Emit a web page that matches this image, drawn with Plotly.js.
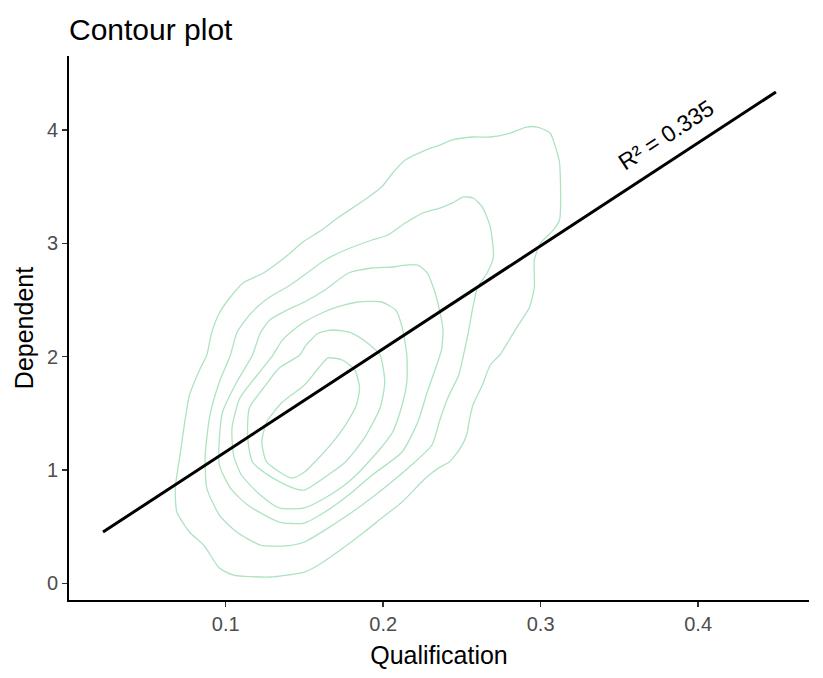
<!DOCTYPE html>
<html>
<head>
<meta charset="utf-8">
<script src="https://cdn.plot.ly/plotly-3.0.1.min.js"></script>
<style>html,body{margin:0;padding:0;background:#fff;}#chart{width:823px;height:678px;}</style>
</head>
<body>
<div id="chart"></div>
<script>
// Density contour rings (outer to inner)
const ring1X = [0.236,0.244,0.257,0.268,0.279,0.291,0.298,0.306,0.310,0.312,0.312,0.308,0.300,0.296,0.296,0.293,0.285,0.274,0.268,0.263,0.257,0.255,0.253,0.249,0.242,0.236,0.227,0.212,0.199,0.188,0.171,0.159,0.150,0.139,0.128,0.105,0.096,0.086,0.077,0.069,0.068,0.071,0.074,0.077,0.084,0.088,0.091,0.096,0.103,0.111,0.124,0.133,0.141,0.149,0.161,0.171,0.188,0.199,0.206,0.214,0.227,0.236];
const ring1Y = [3.868,3.913,3.939,3.939,3.966,4.027,4.027,3.974,3.824,3.710,3.207,3.118,3.004,2.854,2.615,2.439,2.262,2.015,1.927,1.750,1.574,1.459,1.309,1.194,1.071,1.026,0.929,0.718,0.576,0.453,0.276,0.162,0.100,0.073,0.056,0.073,0.135,0.338,0.453,0.629,0.841,1.132,1.424,1.662,1.900,2.015,2.209,2.386,2.527,2.651,2.739,2.827,2.915,3.012,3.118,3.224,3.383,3.498,3.621,3.736,3.824,3.868];

const ring2X = [0.236,0.244,0.251,0.257,0.263,0.268,0.270,0.266,0.260,0.257,0.254,0.251,0.248,0.241,0.236,0.231,0.218,0.203,0.184,0.168,0.150,0.138,0.122,0.107,0.096,0.088,0.087,0.090,0.096,0.103,0.107,0.114,0.120,0.128,0.139,0.150,0.163,0.176,0.193,0.203,0.214,0.225,0.236];
const ring2Y = [3.312,3.357,3.410,3.401,3.321,3.145,2.880,2.739,2.615,2.439,2.209,2.015,1.838,1.635,1.441,1.221,1.044,0.868,0.665,0.515,0.365,0.330,0.338,0.453,0.603,0.841,1.132,1.485,1.777,2.015,2.209,2.350,2.439,2.527,2.615,2.721,2.854,2.942,3.030,3.074,3.180,3.268,3.312];

const ring3X = [0.150,0.163,0.178,0.193,0.206,0.214,0.222,0.228,0.233,0.236,0.238,0.237,0.234,0.228,0.222,0.212,0.193,0.178,0.163,0.150,0.134,0.114,0.103,0.096,0.096,0.098,0.107,0.117,0.122,0.128,0.139,0.150];
const ring3Y = [2.483,2.589,2.739,2.783,2.792,2.809,2.809,2.739,2.562,2.395,2.236,2.059,1.927,1.688,1.424,1.159,0.956,0.779,0.629,0.532,0.541,0.691,0.841,1.044,1.282,1.512,1.777,2.015,2.209,2.324,2.412,2.483];

const ring4X = [0.150,0.161,0.171,0.184,0.199,0.208,0.212,0.215,0.215,0.212,0.206,0.193,0.178,0.163,0.150,0.134,0.122,0.110,0.105,0.104,0.109,0.120,0.130,0.136,0.143,0.150];
const ring4Y = [2.306,2.386,2.439,2.483,2.483,2.412,2.262,2.015,1.777,1.574,1.335,1.106,0.894,0.753,0.665,0.665,0.779,0.956,1.132,1.371,1.635,1.838,2.015,2.147,2.236,2.306];

const ring5X = [0.151,0.159,0.168,0.180,0.190,0.198,0.201,0.198,0.188,0.176,0.165,0.150,0.143,0.130,0.117,0.114,0.115,0.124,0.134,0.147,0.151];
const ring5Y = [2.103,2.209,2.236,2.209,2.121,2.015,1.777,1.547,1.282,1.071,0.956,0.823,0.841,0.929,1.071,1.282,1.547,1.724,1.900,2.015,2.103];

const ring6X = [0.165,0.174,0.182,0.185,0.183,0.176,0.168,0.159,0.150,0.142,0.126,0.123,0.126,0.136,0.150,0.159,0.165];
const ring6Y = [1.989,1.971,1.883,1.724,1.574,1.397,1.247,1.106,0.982,0.929,1.071,1.247,1.424,1.600,1.750,1.900,1.989];

// Regression line end points
const fitX = [0.0221, 0.4494];
const fitY = [0.453, 4.336];

const xTicks = [0.1, 0.2, 0.3, 0.4];
const yTicks = [0, 1, 2, 3, 4];
const r2Label = "R² = 0.335";

const ringsX = [ring1X, ring2X, ring3X, ring4X, ring5X, ring6X];
const ringsY = [ring1Y, ring2Y, ring3Y, ring4Y, ring5Y, ring6Y];

const traces = ringsX.map((xs, i) => ({
  type: 'scatter', mode: 'lines', x: xs, y: ringsY[i],
  line: {color: '#aee3c0', width: 1.3, shape: 'spline', smoothing: 0.6},
  hoverinfo: 'skip'
}));
traces.push({
  type: 'scatter', mode: 'lines', x: fitX, y: fitY,
  line: {color: '#000000', width: 3}, hoverinfo: 'skip'
});

const font = 'Liberation Sans, Arial, sans-serif';
const layout = {
  width: 823, height: 678,
  margin: {l: 69, r: 14, t: 56, b: 78},
  paper_bgcolor: '#ffffff', plot_bgcolor: '#ffffff',
  showlegend: false,
  font: {family: font},
  title: {text: 'Contour plot', font: {family: font, size: 30, color: '#000'},
          xref: 'container', x: 69/823, xanchor: 'left',
          yref: 'container', y: 1 - 29/678, yanchor: 'middle'},
  xaxis: {
    range: [0.0005, 0.4704], tickvals: xTicks, ticktext: xTicks.map(String),
    showgrid: false, zeroline: false, showline: true, linecolor: '#000', linewidth: 2,
    ticks: 'outside', ticklen: 5, tickwidth: 1.5, tickcolor: '#333',
    tickfont: {family: font, size: 20, color: '#4d4d4d'},
    title: {text: 'Qualification', font: {family: font, size: 25, color: '#000'}, standoff: 12},
    automargin: false
  },
  yaxis: {
    range: [-0.147, 4.654], tickvals: yTicks, ticktext: yTicks.map(String),
    showgrid: false, zeroline: false, showline: true, linecolor: '#000', linewidth: 2,
    ticks: 'outside', ticklen: 5, tickwidth: 1.5, tickcolor: '#333',
    tickfont: {family: font, size: 20, color: '#4d4d4d'},
    title: {text: 'Dependent', font: {family: font, size: 25, color: '#000'}, standoff: 6},
    automargin: false
  },
  annotations: [{
    x: 0.3796, y: 3.957, xref: 'x', yref: 'y', text: r2Label, showarrow: false,
    textangle: -33, xanchor: 'center', yanchor: 'middle',
    font: {family: font, size: 23, color: '#000'}
  }]
};

Plotly.newPlot('chart', traces, layout, {displayModeBar: false, staticPlot: true});
</script>
</body>
</html>
